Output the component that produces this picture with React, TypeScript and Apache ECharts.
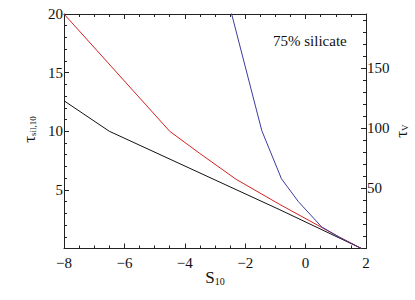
import React, { useEffect, useRef } from "react";
import * as echarts from "echarts";

// S10 values and tau values
const blackS = [-8, -6.5, -0.85, 1.85];
const blackTau = [12.6, 10, 3.3, 0];

const redS = [-8, -4.5, -3.5, -2.3, -0.85, 1.1, 1.85];
const redTau = [20, 10, 8.1, 5.9, 3.75, 1.0, 0];

const blueS = [-2.5, -1.45, -0.8, -0.24, 0.53, 1.14, 1.85];
const blueTauV = [200, 98, 58, 39, 18, 9, 0];

const xTicks = [-8, -6, -4, -2, 0, 2];
const leftTicks = [5, 10, 15, 20];
const rightTicks = [50, 100, 150];

const FONT = "'Liberation Serif', 'Times New Roman', 'DejaVu Serif', serif";
const AXIS = "#222";

function pairs(xs: number[], ys: number[]) {
  return xs.map((x, i) => [x, ys[i]]);
}

const nameRich = {
  m: { fontFamily: FONT, fontSize: 17, color: "#111", lineHeight: 18 },
  s: { fontFamily: FONT, fontSize: 10, color: "#111", lineHeight: 6, verticalAlign: "bottom" },
};

function rotatedTitle(cx: number, cy: number, main: string, sub: string) {
  return {
    type: "group",
    x: cx,
    y: cy,
    rotation: Math.PI / 2,
    children: [
      {
        type: "text",
        x: -3,
        y: 0,
        style: {
          text: main,
          fontFamily: FONT,
          fontSize: 17,
          fill: "#111",
          align: "right",
          verticalAlign: "middle",
        },
      },
      {
        type: "text",
        x: -3,
        y: 4,
        style: {
          text: sub,
          fontFamily: FONT,
          fontSize: 9,
          fill: "#111",
          align: "left",
          verticalAlign: "middle",
        },
      },
    ],
  };
}

export default function App() {
  const ref = useRef<HTMLDivElement>(null);
  useEffect(() => {
    if (!ref.current) return;
    const chart = echarts.init(ref.current, null, { renderer: "svg" });
    const line = { show: true, onZero: false, lineStyle: { color: AXIS, width: 1 } };
    const tick = { show: true, inside: true, length: 5, lineStyle: { color: AXIS } };
    const label = { fontFamily: FONT, fontSize: 15, color: "#111" };
    chart.setOption({
      animation: false,
      backgroundColor: "#fff",
      textStyle: { fontFamily: FONT },
      grid: {
        left: 64,
        top: 14,
        right: 49,
        bottom: 51.5,
        containLabel: false,
        outerBoundsMode: "none",
      },
      xAxis: [
        {
          type: "value",
          position: "bottom",
          min: -8,
          max: 2,
          interval: 2,
          axisLine: line,
          splitLine: { show: false },
          axisTick: tick,
          minorTick: { show: true, splitNumber: 4, length: 3, lineStyle: { color: AXIS } },
          axisLabel: {
            ...label,
            margin: 7,
            formatter: (v: number) =>
              xTicks.includes(v) ? String(v).replace("-", "\u2212") : "",
          },
          name: "{m|S}{s|10}",
          nameLocation: "middle",
          nameGap: 20,
          nameMoveOverlap: false,
          nameTextStyle: { rich: nameRich },
        },
        {
          type: "value",
          position: "top",
          min: -8,
          max: 2,
          interval: 2,
          axisLine: line,
          splitLine: { show: false },
          axisTick: tick,
          minorTick: { show: true, splitNumber: 4, length: 3, lineStyle: { color: AXIS } },
          axisLabel: { show: false },
        },
      ],
      yAxis: [
        {
          type: "value",
          position: "left",
          min: 0,
          max: 20,
          interval: 5,
          axisLine: line,
          splitLine: { show: false },
          axisTick: tick,
          minorTick: { show: true, splitNumber: 5, length: 3, lineStyle: { color: AXIS } },
          axisLabel: {
            ...label,
            margin: 1,
            formatter: (v: number) => (leftTicks.includes(v) ? String(v) : ""),
          },
        },
        {
          type: "value",
          position: "right",
          min: 0,
          max: 195,
          interval: 50,
          axisLine: line,
          splitLine: { show: false },
          axisTick: tick,
          axisLabel: {
            ...label,
            margin: 1,
            showMaxLabel: false,
            formatter: (v: number) => (rightTicks.includes(v) ? String(v) : ""),
          },
        },
        {
          type: "value",
          position: "right",
          min: 0,
          max: 195,
          interval: 10,
          axisLine: { show: false, onZero: false },
          splitLine: { show: false },
          axisTick: { show: true, inside: true, length: 3, lineStyle: { color: AXIS } },
          axisLabel: { show: false },
        },
      ],
      series: [
        {
          type: "line",
          xAxisIndex: 0,
          yAxisIndex: 0,
          data: pairs(blackS, blackTau),
          showSymbol: false,
          clip: true,
          lineStyle: { color: "#111", width: 1 },
        },
        {
          type: "line",
          xAxisIndex: 0,
          yAxisIndex: 0,
          data: pairs(redS, redTau),
          showSymbol: false,
          clip: true,
          lineStyle: { color: "#d42222", width: 1 },
        },
        {
          type: "line",
          xAxisIndex: 0,
          yAxisIndex: 1,
          data: pairs(blueS, blueTauV),
          showSymbol: false,
          clip: true,
          lineStyle: { color: "#3c3ca0", width: 1 },
        },
      ],
      graphic: [
        {
          type: "text",
          x: 273,
          y: 41,
          style: {
            text: "75% silicate",
            fontFamily: FONT,
            fontSize: 15,
            fill: "#111",
            align: "left",
            verticalAlign: "middle",
          },
        },
        rotatedTitle(29, 133, "\u03c4", "sil,10"),
        rotatedTitle(401, 128, "\u03c4", "V"),
      ],
    });
    return () => chart.dispose();
  }, []);
  return (
    <div
      ref={ref}
      style={{ position: "fixed", left: 0, top: 0, width: 415, height: 300 }}
    />
  );
}
